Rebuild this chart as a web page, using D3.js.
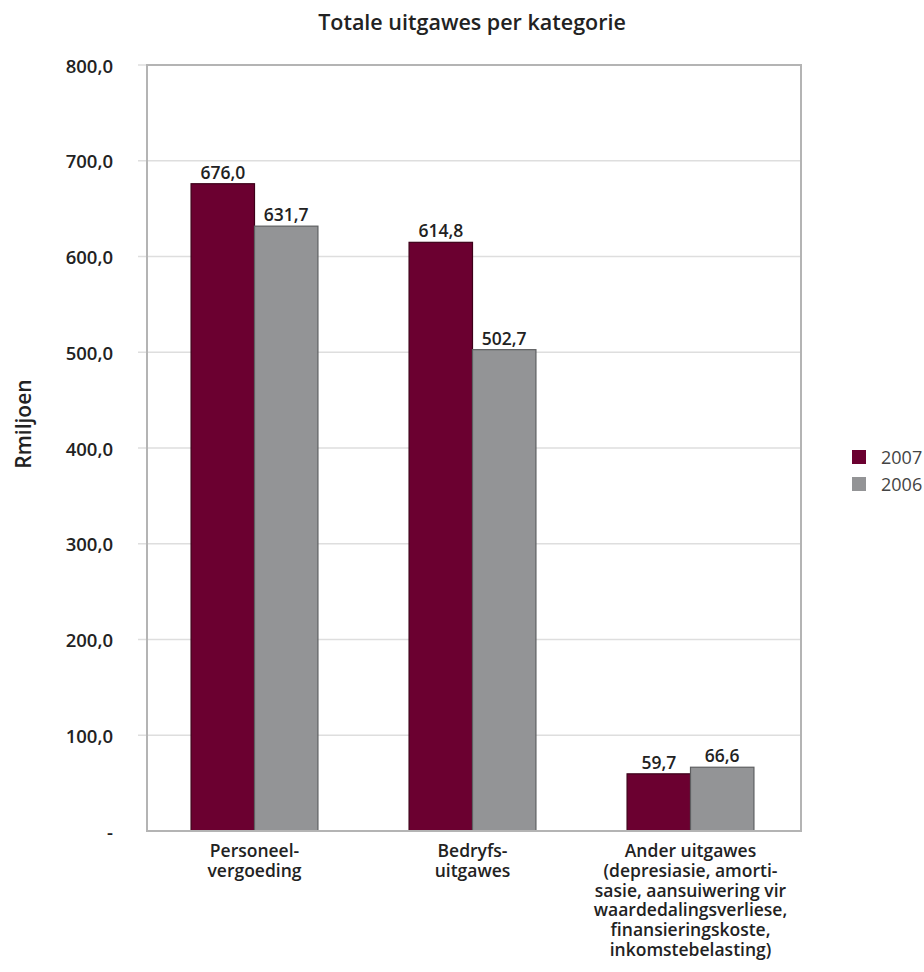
<!DOCTYPE html>
<html><head><meta charset="utf-8">
<script src="https://cdn.jsdelivr.net/npm/d3@7"></script>
<style>body{margin:0;background:#fff;} text{font-family:"Open Sans",sans-serif;}</style>
</head><body>
<svg id="c" width="924" height="972"></svg>
<script>
const categories = [
  ["Personeel-","vergoeding"],
  ["Bedryfs-","uitgawes"],
  ["Ander uitgawes","(depresiasie, amorti-","sasie, aansuiwering vir","waardedalingsverliese,","finansieringskoste,","inkomstebelasting)"]
];
const series = ["2007","2006"];
const values2007 = [676.0, 614.8, 59.7];
const values2006 = [631.7, 502.7, 66.6];
const yTicks = [0,100,200,300,400,500,600,700,800];
const colors = ["#6b0030","#939496"];
const strokes = ["#3d0019","#5e5f61"];
const title = "Totale uitgawes per kategorie";
const yTitle = "Rmiljoen";

const svg = d3.select("#c");
const L=147, R=801, T=65, B=831;
const x = d3.scaleBand().domain(d3.range(categories.length)).range([L-1.5,R-1.5]).paddingInner(0.418).paddingOuter(0.209);
const xs = d3.scaleBand().domain(series).range([0,x.bandwidth()]);
const y = d3.scaleLinear().domain([0,800]).range([B,T]);
const fmt = v => v===0 ? "-" : d3.format(".1f")(v).replace(".",",");

// gridlines
svg.append("g").selectAll("line").data(yTicks.filter(d=>d>0)).join("line")
  .attr("x1",138).attr("x2",R).attr("y1",d=>y(d)).attr("y2",d=>y(d))
  .attr("stroke","#dedede").attr("stroke-width",1.5);

// axis labels
const ya = d3.axisLeft(y).tickValues(yTicks).tickFormat(fmt).tickSize(0).tickPadding(0);
const gy = svg.append("g").attr("transform",`translate(113,0)`).call(ya);
gy.select(".domain").remove();
gy.selectAll("text").attr("font-size",18.5).attr("font-family","\"Open Sans\",sans-serif").attr("font-weight",600).attr("fill","#222").attr("dy","0.38em");

// bars
const data = [values2007, values2006];
series.forEach((s,si)=>{
  svg.append("g").selectAll("rect").data(data[si]).join("rect")
    .attr("x",(d,i)=>x(i)+xs(s)).attr("width",xs.bandwidth())
    .attr("y",d=>y(d)).attr("height",d=>B-y(d))
    .attr("fill",colors[si]).attr("stroke",strokes[si]).attr("stroke-width",1.2);
  svg.append("g").selectAll("text").data(data[si]).join("text")
    .attr("x",(d,i)=>x(i)+xs(s)+xs.bandwidth()/2).attr("y",d=>y(d)-5)
    .attr("text-anchor","middle").attr("font-size",17.5).attr("font-weight",600).attr("fill","#222")
    .text(fmt);
});

// plot frame
svg.append("rect").attr("x",L).attr("y",T).attr("width",R-L).attr("height",B-T)
  .attr("fill","none").attr("stroke","#b4b4b4").attr("stroke-width",2);

// x axis labels
const xa = svg.append("g");
categories.forEach((lines,i)=>{
  const cx = x(i)+x.bandwidth()/2;
  xa.append("g").selectAll("text").data(lines).join("text")
    .attr("x",cx).attr("y",(d,j)=>857+j*19.8)
    .attr("text-anchor","middle").attr("font-size",17.5).attr("font-weight",600).attr("fill","#222")
    .text(d=>d);
});

// title
svg.append("text").attr("x",472).attr("y",29.5).attr("text-anchor","middle")
  .attr("font-size",21.5).attr("font-weight",600).attr("fill","#222").text(title);
svg.append("text").attr("transform","translate(31,424) rotate(-90)").attr("text-anchor","middle")
  .attr("font-size",21).attr("font-weight",600).attr("fill","#222").text(yTitle);

// legend
const lg = svg.append("g").selectAll("g").data(series).join("g")
  .attr("transform",(d,i)=>`translate(852,${450+i*27})`);
lg.append("rect").attr("width",14).attr("height",14).attr("fill",(d,i)=>colors[i]);
lg.append("text").attr("x",29).attr("y",14).attr("font-size",18).attr("fill","#444").text(d=>d);
</script>
</body></html>
